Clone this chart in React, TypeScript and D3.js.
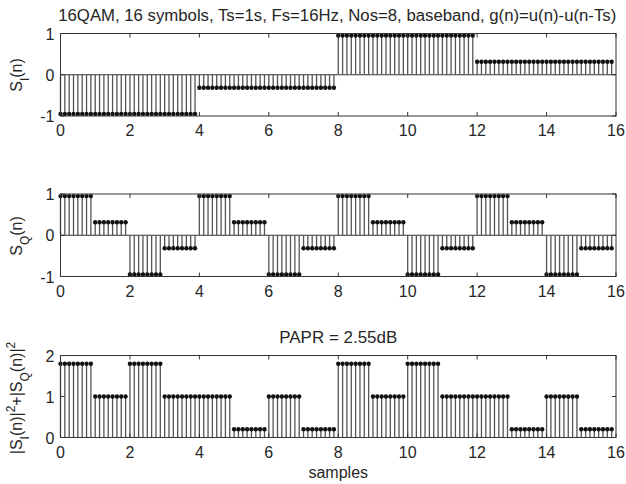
import React from "react";
import * as d3 from "d3";

const A = 0.9487; // 3/sqrt(10)
const B = 0.3162; // 1/sqrt(10)
const symbolsI = [-A, -A, -A, -A, -B, -B, -B, -B, A, A, A, A, B, B, B, B];
const symbolsQ = [A, B, -A, -B, A, B, -A, -B, A, B, -A, -B, A, B, -A, -B];
const symbolsPower = [1.8, 1.0, 1.8, 1.0, 1.0, 0.2, 1.0, 0.2, 1.8, 1.0, 1.8, 1.0, 1.0, 0.2, 1.0, 0.2];
const Nos = 8;
const xTicks = [0, 2, 4, 6, 8, 10, 12, 14, 16];
const yTicksIQ = [-1, 0, 1];
const yTicksP = [0, 1, 2];
const titleText = "16QAM, 16 symbols, Ts=1s, Fs=16Hz, Nos=8, baseband, g(n)=u(n)-u(n-Ts)";
const paprText = "PAPR = 2.55dB";

function upsample(sym: number[]) {
  const out: { x: number; y: number }[] = [];
  sym.forEach((v, k) => {
    for (let j = 0; j < Nos; j++) out.push({ x: k + j / Nos, y: v });
  });
  return out;
}

const W = 626, H = 484;
const X0 = 60.5, X1 = 616;
const FONT = "Liberation Sans, Arial, sans-serif";
const TXT = "#262626";
const FS = 16;

function Panel({ data, top, bottom, yDomain, yTicks }: any) {
  const x = d3.scaleLinear().domain([0, 16]).range([X0, X1]);
  const y = d3.scaleLinear().domain(yDomain).range([bottom, top]);
  const tl = 4;
  return (
    <g>
      <line x1={X0} x2={X1} y1={y(0)} y2={y(0)} stroke="#333" strokeWidth={1} />
      {data.map((d: any, i: number) => (
        <line key={"s" + i} x1={x(d.x)} x2={x(d.x)} y1={y(0)} y2={y(d.y)} stroke="#555" strokeWidth={1.3} />
      ))}
      {data.map((d: any, i: number) => (
        <circle key={"m" + i} cx={x(d.x)} cy={y(d.y)} r={2.2} fill="#111" />
      ))}
      <rect x={X0} y={top} width={X1 - X0} height={bottom - top} fill="none" stroke="#333" strokeWidth={1} />
      {xTicks.map((t) => (
        <g key={"xt" + t}>
          <line x1={x(t)} x2={x(t)} y1={bottom} y2={bottom - tl} stroke="#333" />
          <line x1={x(t)} x2={x(t)} y1={top} y2={top + tl} stroke="#333" />
          <text x={x(t)} y={bottom + 20} textAnchor="middle" fontSize={FS} fill={TXT} fontFamily={FONT}>{t}</text>
        </g>
      ))}
      {yTicks.map((t: number) => (
        <g key={"yt" + t}>
          <line x1={X0} x2={X0 + tl} y1={y(t)} y2={y(t)} stroke="#333" />
          <line x1={X1} x2={X1 - tl} y1={y(t)} y2={y(t)} stroke="#333" />
          <text x={X0 - 6} y={y(t) + 6} textAnchor="end" fontSize={FS} fill={TXT} fontFamily={FONT}>{t}</text>
        </g>
      ))}
    </g>
  );
}

export default function App() {
  const dI = upsample(symbolsI);
  const dQ = upsample(symbolsQ);
  const dP = upsample(symbolsPower);
  const sub = { fontSize: 12, baselineShift: "sub" } as any;
  const sup = { fontSize: 12, baselineShift: "super" } as any;
  return (
    <svg width={W} height={H} style={{ position: "absolute", left: 0, top: 0, background: "#fff" }}>
      <rect x={0} y={0} width={W} height={H} fill="#fff" />
      <text x={(X0 + X1) / 2 - 1} y={21} textAnchor="middle" fontSize={FS} fill={TXT} fontFamily={FONT} textLength={558} lengthAdjust="spacingAndGlyphs">{titleText}</text>
      <Panel data={dI} top={33.5} bottom={116} yDomain={[-1, 1]} yTicks={yTicksIQ} />
      <Panel data={dQ} top={194} bottom={276.5} yDomain={[-1, 1]} yTicks={yTicksIQ} />
      <text x={(X0 + X1) / 2} y={343} textAnchor="middle" fontSize={FS} fill={TXT} fontFamily={FONT} textLength={118} lengthAdjust="spacingAndGlyphs">{paprText}</text>
      <Panel data={dP} top={355.5} bottom={437.5} yDomain={[0, 2]} yTicks={yTicksP} />
      <text x={(X0 + X1) / 2} y={478} textAnchor="middle" fontSize={FS} fill={TXT} fontFamily={FONT}>samples</text>
      <text transform={`translate(22,75) rotate(-90)`} textAnchor="middle" fontSize={FS} fill={TXT} fontFamily={FONT}>
        S<tspan style={sub}>I</tspan>(n)
      </text>
      <text transform={`translate(22,236) rotate(-90)`} textAnchor="middle" fontSize={FS} fill={TXT} fontFamily={FONT}>
        S<tspan style={sub}>Q</tspan>(n)
      </text>
      <text transform={`translate(22,398) rotate(-90)`} textAnchor="middle" fontSize={FS} fill={TXT} fontFamily={FONT}>
        |S<tspan style={sub}>I</tspan>(n)|<tspan style={sup}>2</tspan>+|S<tspan style={sub}>Q</tspan>(n)|<tspan style={sup}>2</tspan>
      </text>
    </svg>
  );
}
